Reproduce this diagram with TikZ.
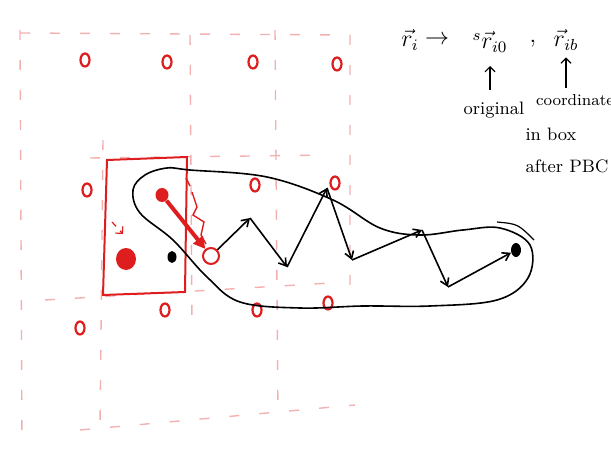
\documentclass[tikz,border=0pt]{standalone}
\usepackage{amsmath,amssymb}
\usepackage{xcolor}
\usetikzlibrary{arrows.meta,shapes.geometric}
\definecolor{pen}{RGB}{222,30,30}
\tikzset{
	img/.style={x=0.5pt,y=-0.5pt},
	cellline/.style={draw=pen!35,line width=0.7pt,dash pattern=on 5pt off 10pt},
	ghostimg/.style={ellipse,draw=pen,line width=1.1pt,inner sep=0pt,minimum width=4.5pt,minimum height=6.5pt},
	hop/.style={-{Straight Barb[length=3.5pt,width=4.5pt]},line width=0.8pt},
	note/.style={font=\small,inner sep=1pt},
}
\begin{document}
\begin{tikzpicture}[img]
	\useasboundingbox (0,0) rectangle (611,454);
	% periodic cells
	\draw[cellline] (20,30)--(22,440) (103,140)--(100,430) (190,35)--(192,330) (275,30)--(278,420) (350,35)--(350,300);
	\draw[cellline] (20,33)--(350,35) (90,158)--(330,155) (45,300)--(330,283) (80,430)--(355,405);
	% periodic images
	\foreach \x/\y [count=\k] in {85/60,167/62,253/62,337/64,87/190,255/185,335/183,80/328,165/310,257/310,328/303}
		\node[ghostimg] (g\k) at (\x,\y) {};
	% simulation box
	\draw[pen,line width=1pt] (107,160)--(187,157)--(185,292)--(103,295)--cycle;
	\node[ellipse,fill=pen,inner sep=0pt,minimum width=6.5pt,minimum height=7pt] (sA) at (162,195) {};
	\node[ellipse,fill=pen,inner sep=0pt,minimum width=10pt,minimum height=11pt] (sB) at (126,259) {};
	\node[ellipse,fill=black,inner sep=0pt,minimum width=4.5pt,minimum height=6pt] (b0) at (172,257) {};
	\node[circle,draw=pen,line width=1pt,fill=white,inner sep=0pt,minimum size=8pt] (s0) at (211,256) {};
	\draw[pen,line width=2pt,-{Triangle[length=6pt,width=6pt]}] (sA)--(s0);
	\draw[pen,line width=0.7pt] (186,178)--(190,186) (192,192)--(197,207)--(193,215)--(204,222)--(201,235)--(206,244);
	\draw[pen,dashed,line width=0.6pt,-{Straight Barb[length=2.5pt]}] (112,222)--(123,234);
	% unwrapped walk
	\coordinate (z1) at (250,218);
	\coordinate (z2) at (287,267);
	\coordinate (z3) at (327,188);
	\coordinate (z4) at (352,260);
	\coordinate (z5) at (422,230);
	\coordinate (z6) at (448,287);
	\node[ellipse,fill=black,inner sep=0pt,minimum width=5pt,minimum height=7pt] (bend) at (516,250) {};
	\draw[hop] (s0)--(z1);
	\foreach \a/\b in {z1/z2,z2/z3,z3/z4,z4/z5,z5/z6,z6/bend}
		\draw[hop] (\a)--(\b);
	\draw[line width=0.8pt] plot[smooth cycle,tension=0.6] coordinates {(190,170) (267,177) (333,200) (380,228) (420,235) (463,230) (500,228) (530,245) (528,278) (497,300) (430,306) (363,306) (300,308) (240,302) (207,277) (173,240) (140,213) (133,190) (145,175) (167,168)};
	\draw[line width=0.6pt] (497,222) .. controls (518,224) .. (534,240);
	% notation
	\node[font=\large] (ri) at (410,40) {$\vec{r}_i$};
	\node[font=\large] (to) at (437,40) {$\to$};
	\node[font=\large] (rio) at (490,42) {${}^{s}\vec{r}_{i0}$};
	\node[font=\large] (cm) at (533,44) {,};
	\node[font=\large] (rib) at (566,40) {$\vec{r}_{ib}$};
	\node[note] (orig) at (494,110) {original};
	\node[note,font=\footnotesize] (coord) at (575,100) {coordinate};
	\node[note] (inbox) at (551,134) {in box};
	\node[note] (pbc) at (567,166) {after PBC};
	\draw[-{Straight Barb[length=2.5pt]},line width=0.6pt] (490,90)--(490,66);
	\draw[-{Straight Barb[length=2.5pt]},line width=0.6pt] (566,88)--(rib.south);
\end{tikzpicture}
\end{document}
